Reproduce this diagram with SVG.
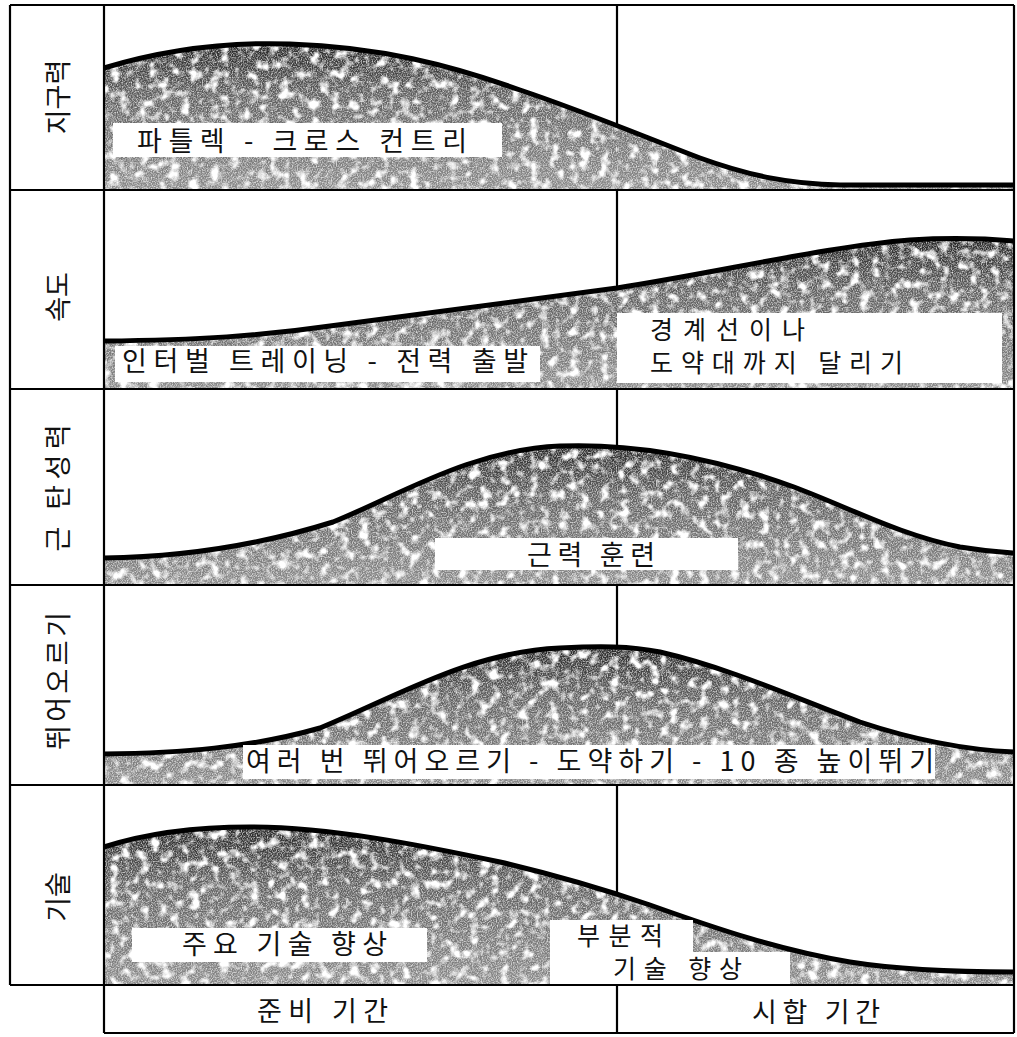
<svg xmlns="http://www.w3.org/2000/svg" width="1017" height="1037" viewBox="0 0 1017 1037">
<style>
  .t { font-family: "Noto Sans CJK KR", "Noto Sans", sans-serif; font-size: 27px; fill: #111; }
  .t2 { font-family: "Noto Sans CJK KR", "Noto Sans", sans-serif; font-size: 25px; fill: #111; }
  .vl { font-family: "Noto Sans CJK KR", "Noto Sans", sans-serif; font-size: 27px; fill: #111; text-anchor: middle; dominant-baseline: central; }
  .grid { stroke: #000; stroke-width: 2.2; fill: none; }
  .curve { stroke: #000; stroke-width: 5; fill: none; stroke-linejoin: round; }
  .fill { fill: url(#shade); filter: url(#stip); }
  .box { fill: #fff; }
</style>
<defs>
  <linearGradient id="shade" x1="0" y1="0" x2="0" y2="1">
    <stop offset="0" stop-color="#262626"/>
    <stop offset="0.35" stop-color="#5e5e5e"/>
    <stop offset="1" stop-color="#8a8a8a"/>
  </linearGradient>
  <filter id="stip" color-interpolation-filters="sRGB">
    <feTurbulence type="fractalNoise" baseFrequency="0.1" numOctaves="2" seed="4" result="n1"/>
    <feColorMatrix in="n1" type="matrix" values="0 0 0 0 1  0 0 0 0 1  0 0 0 0 1  4 0 0 0 -1.95" result="w1"/>
    <feComposite in="w1" in2="SourceGraphic" operator="in" result="c1"/>
    <feTurbulence type="fractalNoise" baseFrequency="0.8" numOctaves="1" seed="9" result="n2"/>
    <feColorMatrix in="n2" type="matrix" values="0 0 0 0 1  0 0 0 0 1  0 0 0 0 1  2 0 0 0 -0.8" result="w2"/>
    <feComposite in="w2" in2="SourceGraphic" operator="in" result="c2"/>
    <feMerge><feMergeNode in="SourceGraphic"/><feMergeNode in="c1"/><feMergeNode in="c2"/></feMerge>
  </filter>
</defs>
<rect x="0" y="0" width="1017" height="1037" fill="#fff"/>

<g id="period-divider">
  <line class="grid" x1="617" y1="5" x2="617" y2="1033"/>
</g>

<g id="row-endurance">
  <path class="fill" d="M104,68 C170,48 230,42 290,44 C380,47 450,65 520,90 C580,110 640,135 700,158 C750,176 790,184 840,185 L1014,185 L1014,190 L104,190 Z"/>
  <path class="curve" d="M104,68 C170,48 230,42 290,44 C380,47 450,65 520,90 C580,110 640,135 700,158 C750,176 790,184 840,185 L1014,185"/>
</g>
<g id="row-speed">
  <path class="fill" d="M104,341 C200,340 260,336 330,326 C430,312 530,300 617,288 C720,272 830,246 910,240 C960,237 990,239 1014,241 L1014,389 L104,389 Z"/>
  <path class="curve" d="M104,341 C200,340 260,336 330,326 C430,312 530,300 617,288 C720,272 830,246 910,240 C960,237 990,239 1014,241"/>
</g>
<g id="row-elasticity">
  <path class="fill" d="M104,558 C180,557 260,545 333,522 C400,495 470,450 560,446 C640,443 720,460 794,487 C850,508 900,535 960,547 C985,551 1000,552 1014,553 L1014,585 L104,585 Z"/>
  <path class="curve" d="M104,558 C180,557 260,545 333,522 C400,495 470,450 560,446 C640,443 720,460 794,487 C850,508 900,535 960,547 C985,551 1000,552 1014,553"/>
</g>
<g id="row-jumping">
  <path class="fill" d="M104,754 C180,753 250,748 320,728 C400,695 470,652 560,648 C600,646 630,646 660,652 C730,668 800,700 860,722 C920,742 970,750 1014,752 L1014,785 L104,785 Z"/>
  <path class="curve" d="M104,754 C180,753 250,748 320,728 C400,695 470,652 560,648 C600,646 630,646 660,652 C730,668 800,700 860,722 C920,742 970,750 1014,752"/>
</g>
<g id="row-technique">
  <path class="fill" d="M104,847 C150,832 200,827 250,827 C330,827 420,845 500,862 C560,876 600,888 650,905 C720,930 780,950 850,962 C900,970 950,972 1014,972 L1014,985 L104,985 Z"/>
  <path class="curve" d="M104,847 C150,832 200,827 250,827 C330,827 420,845 500,862 C560,876 600,888 650,905 C720,930 780,950 850,962 C900,970 950,972 1014,972"/>
</g>

<g id="grid">
  <line class="grid" x1="10" y1="5" x2="1014" y2="5"/>
  <line class="grid" x1="10" y1="190" x2="1014" y2="190"/>
  <line class="grid" x1="10" y1="389" x2="1014" y2="389"/>
  <line class="grid" x1="10" y1="585" x2="1014" y2="585"/>
  <line class="grid" x1="10" y1="785" x2="1014" y2="785"/>
  <line class="grid" x1="10" y1="985" x2="1014" y2="985"/>
  <line class="grid" x1="104" y1="1033" x2="1014" y2="1033"/>
  <line class="grid" x1="10" y1="5" x2="10" y2="985"/>
  <line class="grid" x1="104" y1="5" x2="104" y2="1033"/>
  <line class="grid" x1="1014" y1="5" x2="1014" y2="1033"/>
</g>

<g id="row-labels">
  <text class="vl" transform="translate(56,97) rotate(-90)">지구력</text>
  <text class="vl" transform="translate(56,297) rotate(-90)">속도</text>
  <text class="vl" transform="translate(56,488) rotate(-90)" textLength="127" lengthAdjust="spacing">근 탄성력</text>
  <text class="vl" transform="translate(56,681) rotate(-90)" textLength="138" lengthAdjust="spacing">뛰어오르기</text>
  <text class="vl" transform="translate(56,897) rotate(-90)">기술</text>
</g>

<g id="label-endurance">
  <rect class="box" x="113" y="123" width="389" height="34"/>
  <text class="t" x="137" y="151" textLength="330" lengthAdjust="spacing">파틀렉 - 크로스 컨트리</text>
</g>
<g id="label-speed-1">
  <rect class="box" x="115" y="346" width="425" height="36"/>
  <text class="t" x="122" y="371" textLength="406" lengthAdjust="spacing">인터벌 트레이닝 - 전력 출발</text>
</g>
<g id="label-speed-2">
  <rect class="box" x="617" y="313" width="385" height="70"/>
  <text class="t2" x="650" y="339" textLength="155" lengthAdjust="spacing">경계선이나</text>
  <text class="t2" x="650" y="372" textLength="253" lengthAdjust="spacing">도약대까지 달리기</text>
</g>
<g id="label-elasticity">
  <rect class="box" x="435" y="538" width="303" height="32"/>
  <text class="t" x="527" y="565" textLength="128" lengthAdjust="spacing">근력 훈련</text>
</g>
<g id="label-jumping">
  <rect class="box" x="243" y="745" width="692" height="34"/>
  <text class="t" x="246" y="771" textLength="688" lengthAdjust="spacing">여러 번 뛰어오르기 - 도약하기 - 10 종 높이뛰기</text>
</g>
<g id="label-technique-1">
  <rect class="box" x="132" y="928" width="295" height="34"/>
  <text class="t" x="182" y="954" textLength="205" lengthAdjust="spacing">주요 기술 향상</text>
</g>
<g id="label-technique-2">
  <path class="box" d="M550,920 L693,920 L693,952 L790,952 L790,984 L550,984 Z"/>
  <text class="t2" x="577" y="945" textLength="86" lengthAdjust="spacing">부분적</text>
  <text class="t2" x="613" y="978" textLength="129" lengthAdjust="spacing">기술 향상</text>
</g>

<g id="periods">
  <text class="t" x="257" y="1021" textLength="131" lengthAdjust="spacing">준비 기간</text>
  <text class="t" x="752" y="1022" textLength="128" lengthAdjust="spacing">시합 기간</text>
</g>
</svg>
